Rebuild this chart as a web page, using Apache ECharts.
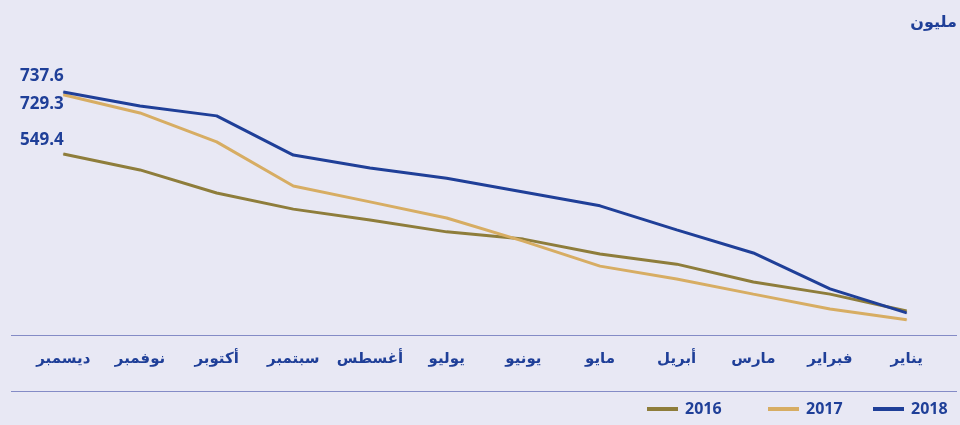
<!DOCTYPE html>
<html>
<head>
<meta charset="utf-8">
<script src="https://cdn.jsdelivr.net/npm/echarts@6/dist/echarts.min.js"></script>
<style>
  html, body { margin: 0; padding: 0; background: #e8e8f4; }
  #chart { width: 960px; height: 425px; }
</style>
</head>
<body>
<div id="chart"></div>
<script>
// months, January first (axis is drawn right-to-left)
const months = ["يناير", "فبراير", "مارس", "أبريل", "مايو", "يونيو",
  "يوليو", "أغسطس", "سبتمبر", "أكتوبر", "نوفمبر", "ديسمبر"];

// cumulative values, million
const values2016 = [73, 124, 161, 215, 246, 291, 313, 349, 382, 431, 501, 549.4];
const values2017 = [46, 79, 124, 170, 209, 285, 355, 404, 452, 586, 674, 729.3];
const values2018 = [67, 140, 249, 319, 392, 434, 476, 507, 546, 665, 695, 737.6];

const years = ["2016", "2017", "2018"];

const navy = "#1f3f98";
const fontFam = "'Open Sans', 'DejaVu Sans', sans-serif";

const chart = echarts.init(document.getElementById("chart"));

// only the December point gets a label
function withLastLabel(arr, offsetY) {
  return arr.map((v, i) => {
    if (i !== arr.length - 1) return v;
    return {
      value: v,
      label: {
        show: true,
        position: "left",
        distance: 0,
        offset: [1, offsetY],
        color: navy,
        fontWeight: "bold",
        fontSize: 17,
        fontFamily: fontFam,
        formatter: (p) => p.value.toFixed(1)
      }
    };
  });
}

function lineSeries(name, data, color, offsetY) {
  return {
    name: name,
    type: "line",
    data: withLastLabel(data, offsetY),
    symbol: "circle",
    symbolSize: 1,
    showSymbol: true,
    itemStyle: { color: color },
    lineStyle: { color: color, width: 3 },
    color: color,
    emphasis: { disabled: true }
  };
}

// one legend per year so the uneven spacing can be matched
const legendLeft = [647, 768, 873];
const legends = years.map((y, i) => ({
  left: legendLeft[i],
  top: 401,
  padding: 0,
  itemWidth: 31,
  itemHeight: 4,
  icon: "rect",
  textStyle: {
    color: navy,
    fontWeight: "bold",
    fontSize: 16,
    fontFamily: fontFam,
    padding: [0, 0, 0, 2]
  },
  data: [y]
}));

const option = {
  backgroundColor: "#e8e8f4",
  animation: false,
  grid: {
    left: 25,
    right: 15,
    top: 71.4,
    bottom: 90
  },
  graphic: [
    {
      type: "line",
      shape: { x1: 11, y1: 335.5, x2: 957, y2: 335.5 },
      style: { stroke: "#848bc6", lineWidth: 1 }
    },
    {
      type: "line",
      shape: { x1: 11, y1: 391.5, x2: 957, y2: 391.5 },
      style: { stroke: "#848bc6", lineWidth: 1 }
    },
    {
      type: "text",
      right: 3,
      top: 14,
      style: {
        text: "مليون",
        fill: navy,
        font: "bold 16px " + fontFam
      }
    }
  ],
  legend: legends,
  xAxis: {
    type: "category",
    data: months,
    inverse: true,
    boundaryGap: true,
    axisLine: { show: false },
    axisTick: { show: false },
    axisLabel: {
      color: navy,
      fontWeight: "bold",
      fontSize: 15,
      fontFamily: fontFam,
      margin: 16,
      interval: 0
    }
  },
  yAxis: {
    type: "value",
    min: 0,
    max: 800,
    show: false,
    splitLine: { show: false }
  },
  series: [
    lineSeries("2016", values2016, "#8e7d3b", -14),
    lineSeries("2017", values2017, "#d7ad63", 9),
    lineSeries("2018", values2018, "#1f3f98", -16)
  ]
};

chart.setOption(option);
</script>
</body>
</html>
